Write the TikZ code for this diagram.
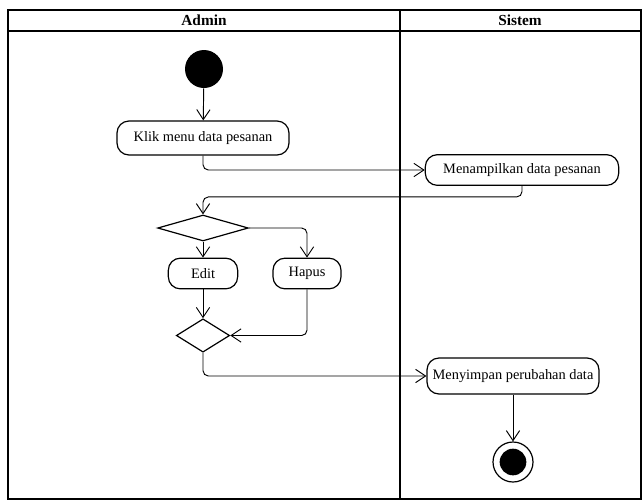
\documentclass[tikz,border=0pt]{standalone}
\usepackage{fontspec}
\setmainfont{Liberation Serif}
\usetikzlibrary{shapes.geometric,arrows.meta}

\tikzset{
  act/.style={draw, line width=0.9pt, rounded corners=9pt, inner sep=0pt, font=\fontsize{10.8}{12}\selectfont},
  cond/.style={draw, diamond, line width=0.9pt, inner sep=0pt},
  flow/.style={draw, line width=0.7pt, rounded corners=4pt, -{Straight Barb[length=7.5pt,width=10pt]}},
  lane/.style={line width=1.4pt},
  lanehead/.style={inner sep=0pt, font=\fontsize{11.5}{13}\selectfont\bfseries}
}

\begin{document}
\begin{tikzpicture}[x=0.75pt,y=0.75pt,yscale=-1,xscale=1]
\useasboundingbox (0,0) rectangle (643,501);

%Shape: Swimlanes
\draw[lane] (8,10) rectangle (641,499);
\draw[lane] (8,31) -- (641,31);
\draw[lane] (400,10) -- (400,499);

% Text Node
\node[lanehead] (admin) at (204,20.5) {Admin};
% Text Node
\node[lanehead] (sistem) at (520,20.5) {Sistem};

%Shape: Initial
\node[circle, fill=black, minimum size=28.5pt, inner sep=0pt] (start) at (204,69) {};
%Shape: Activities
\node[act, minimum width=129pt, minimum height=25.5pt] (klik) at (203,138) {Klik menu data pesanan};
\node[act, minimum width=145pt, minimum height=23pt] (tampil) at (522,170) {Menampilkan data pesanan};
\node[act, minimum width=52pt, minimum height=23pt] (edit) at (203,273.5) {Edit};
\node[act, minimum width=51pt, minimum height=23pt] (hapus) at (307,273.5) {Hapus};
\node[act, minimum width=129pt, minimum height=27pt] (simpan) at (513,376) {Menyimpan perubahan data};
%Shape: Decisions
\node[cond, minimum width=68pt, minimum height=19.5pt] (pilih) at (203,228) {};
\node[cond, minimum width=40pt, minimum height=25pt] (gabung) at (203,335.5) {};
%Shape: Final
\node[circle, draw, line width=0.9pt, minimum size=30pt, inner sep=0pt] (final) at (513,462) {};
\node[circle, fill=black, minimum size=20pt, inner sep=0pt] (finaldot) at (final) {};

%Connectors
\draw[flow] (start) -- (klik);
\draw[flow] (klik.south) |- (tampil.west);
\draw[flow] (tampil.south) -- ++(0,11) -| (pilih.north);
\draw[flow] (pilih) -- (edit);
\draw[flow] (pilih.east) -| (hapus.north);
\draw[flow] (edit) -- (gabung);
\draw[flow] (hapus.south) |- (gabung.east);
\draw[flow] (gabung.south) |- (simpan.west);
\draw[flow] (simpan) -- (final);
\end{tikzpicture}
\end{document}
